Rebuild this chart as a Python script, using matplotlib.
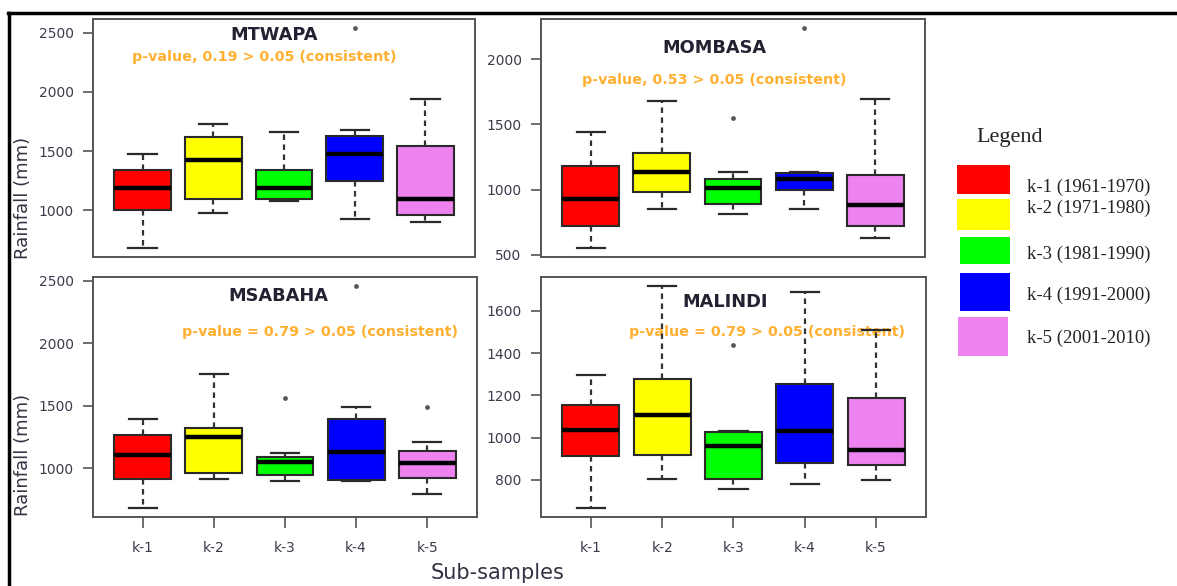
import matplotlib
matplotlib.use("Agg")
import matplotlib.pyplot as plt
from matplotlib.patches import Rectangle
from matplotlib.lines import Line2D

categories = ['k-1', 'k-2', 'k-3', 'k-4', 'k-5']
legend_labels = ['k-1 (1961-1970)', 'k-2 (1971-1980)', 'k-3 (1981-1990)',
                 'k-4 (1991-2000)', 'k-5 (2001-2010)']
box_colors = ['#FF0000', '#FFFF00', '#00FF00', '#0000FF', '#EE82EE']

stations = ['MTWAPA', 'MOMBASA', 'MSABAHA', 'MALINDI']
pvalue_texts = ['p-value, 0.19 > 0.05 (consistent)',
                'p-value, 0.53 > 0.05 (consistent)',
                'p-value = 0.79 > 0.05 (consistent)',
                'p-value = 0.79 > 0.05 (consistent)']

mtwapa_whislo = [682, 983, 1084, 925, 900]
mtwapa_q1 = [1000, 1100, 1100, 1251, 966]
mtwapa_med = [1193, 1427, 1193, 1477, 1100]
mtwapa_q3 = [1343, 1620, 1343, 1628, 1544]
mtwapa_whishi = [1477, 1729, 1662, 1678, 1938]
mtwapa_fliers = [[], [], [], [2541], []]

mombasa_whislo = [551, 853, 812, 853, 632]
mombasa_q1 = [721, 985, 893, 1000, 721]
mombasa_med = [931, 1134, 1015, 1079, 883]
mombasa_q3 = [1185, 1282, 1081, 1124, 1112]
mombasa_whishi = [1439, 1682, 1134, 1132, 1698]
mombasa_fliers = [[], [], [1551], [2241], []]

msabaha_whislo = [681, 917, 896, 898, 791]
msabaha_q1 = [914, 960, 946, 904, 925]
msabaha_med = [1107, 1254, 1054, 1131, 1046]
msabaha_q3 = [1268, 1321, 1094, 1394, 1137]
msabaha_whishi = [1396, 1758, 1121, 1490, 1212]
msabaha_fliers = [[], [], [1565], [2460], [1490]]

malindi_whislo = [666, 804, 755, 779, 799]
malindi_q1 = [911, 919, 804, 881, 869]
malindi_med = [1038, 1108, 962, 1030, 942]
malindi_q3 = [1155, 1277, 1024, 1255, 1188]
malindi_whishi = [1294, 1718, 1030, 1691, 1511]
malindi_fliers = [[], [], [1438], [], []]

yticks_list = [[1000, 1500, 2000, 2500],
               [500, 1000, 1500, 2000],
               [1000, 1500, 2000, 2500],
               [800, 1000, 1200, 1400, 1600]]

station_data = [
    (mtwapa_whislo, mtwapa_q1, mtwapa_med, mtwapa_q3, mtwapa_whishi, mtwapa_fliers),
    (mombasa_whislo, mombasa_q1, mombasa_med, mombasa_q3, mombasa_whishi, mombasa_fliers),
    (msabaha_whislo, msabaha_q1, msabaha_med, msabaha_q3, msabaha_whishi, msabaha_fliers),
    (malindi_whislo, malindi_q1, malindi_med, malindi_q3, malindi_whishi, malindi_fliers),
]

W, H = 1177, 586
fig = plt.figure(figsize=(W / 100, H / 100), dpi=100)

def px_rect(x0, y0, x1, y1):
    return [x0 / W, 1 - y1 / H, (x1 - x0) / W, (y1 - y0) / H]

axes_rects = [px_rect(93, 19, 475, 257), px_rect(541, 19, 925, 257),
              px_rect(93, 277, 477, 517), px_rect(541, 277, 926, 517)]

title_pos = [(0.474, 0.933), (0.451, 0.878), (0.482, 0.921), (0.478, 0.896)]
pval_pos = [(0.448, 0.840), (0.452, 0.744), (0.591, 0.771), (0.587, 0.771)]

tick_color = '#3c3c4c'
spine_color = '#555555'

for i, (rect, data) in enumerate(zip(axes_rects, station_data)):
    ax = fig.add_axes(rect)
    whislo, q1, med, q3, whishi, fliers = data
    stats = []
    for j in range(len(categories)):
        stats.append(dict(whislo=whislo[j], q1=q1[j], med=med[j], q3=q3[j],
                          whishi=whishi[j], fliers=fliers[j], label=categories[j]))
    bp = ax.bxp(stats, positions=range(1, len(categories) + 1), widths=0.8,
                capwidths=0.4, patch_artist=True, showfliers=True,
                boxprops=dict(edgecolor='#2a2a2a', linewidth=1.5),
                whiskerprops=dict(color='#333333', linewidth=1.6, linestyle=(0, (2.5, 2))),
                capprops=dict(color='#2a2a2a', linewidth=1.6),
                medianprops=dict(color='black', linewidth=3.2),
                flierprops=dict(marker='o', markersize=2.4, markerfacecolor='#555555',
                                markeredgecolor='#555555', linestyle='none'))
    for patch, c in zip(bp['boxes'], box_colors):
        patch.set_facecolor(c)
    for art_list in bp.values():
        for a in art_list:
            a.set_zorder(3)
    allvals = whislo + whishi + [v for f in fliers for v in f]
    lo, hi = min(allvals), max(allvals)
    pad = 0.04 * (hi - lo)
    ax.set_ylim(lo - pad, hi + pad)
    ax.set_xlim(0.3, len(categories) + 0.7)
    ax.set_yticks(yticks_list[i])
    ax.tick_params(axis='y', length=7, width=1.2, color=spine_color, pad=7,
                   labelsize=10, labelcolor=tick_color)
    if i < 2:
        ax.tick_params(axis='x', bottom=False, labelbottom=False)
    else:
        ax.set_xticks(range(1, len(categories) + 1))
        ax.set_xticklabels(categories)
        ax.tick_params(axis='x', length=8, width=1.2, color=spine_color, pad=9,
                       labelsize=10, labelcolor=tick_color)
    for s in ax.spines.values():
        s.set_color(spine_color)
        s.set_linewidth(1.4)
    ax.text(title_pos[i][0], title_pos[i][1], stations[i], transform=ax.transAxes,
            ha='center', va='center', fontsize=12.8, fontweight='bold',
            color='#222233', zorder=1)
    ax.text(pval_pos[i][0], pval_pos[i][1], pvalue_texts[i], transform=ax.transAxes,
            ha='center', va='center', fontsize=10.3, fontweight='bold',
            color='#FFB030', zorder=1)

# y labels and x label
fig.text(23 / W, 1 - 198 / H, 'Rainfall (mm)', rotation=90, ha='center', va='center',
         fontsize=13, color='#333344')
fig.text(23 / W, 1 - 455 / H, 'Rainfall (mm)', rotation=90, ha='center', va='center',
         fontsize=13, color='#333344')
fig.text(498 / W, 1 - 573 / H, 'Sub-samples', ha='center', va='center',
         fontsize=15, color='#333344')

# legend
serif = ['Liberation Serif', 'DejaVu Serif']
fig.text(1010 / W, 1 - 138 / H, 'Legend', ha='center', va='center', fontsize=16,
         family=serif, color='#222222')
swatches = [(957, 165, 1010, 194), (957, 199, 1010, 230), (960, 237, 1010, 264),
            (960, 273, 1010, 311), (958, 317, 1008, 356)]
label_y = [187, 208, 254, 295, 338]
for (x0, y0, x1, y1), c, lab, ly in zip(swatches, box_colors, legend_labels, label_y):
    fig.add_artist(Rectangle((x0 / W, 1 - y1 / H), (x1 - x0) / W, (y1 - y0) / H,
                             transform=fig.transFigure, facecolor=c,
                             edgecolor='none'))
    fig.text(1027 / W, 1 - ly / H, lab, ha='left', va='center', fontsize=13.5,
             family=serif, color='#222222')

# outer frame lines
fig.add_artist(Line2D([8 / W, 1.0], [1 - 13 / H, 1 - 13 / H], transform=fig.transFigure,
                      color='black', linewidth=2.5))
fig.add_artist(Line2D([9 / W, 9 / W], [1 - 13 / H, 0.0], transform=fig.transFigure,
                      color='black', linewidth=2.5))

fig.savefig('out.png', dpi=100)
